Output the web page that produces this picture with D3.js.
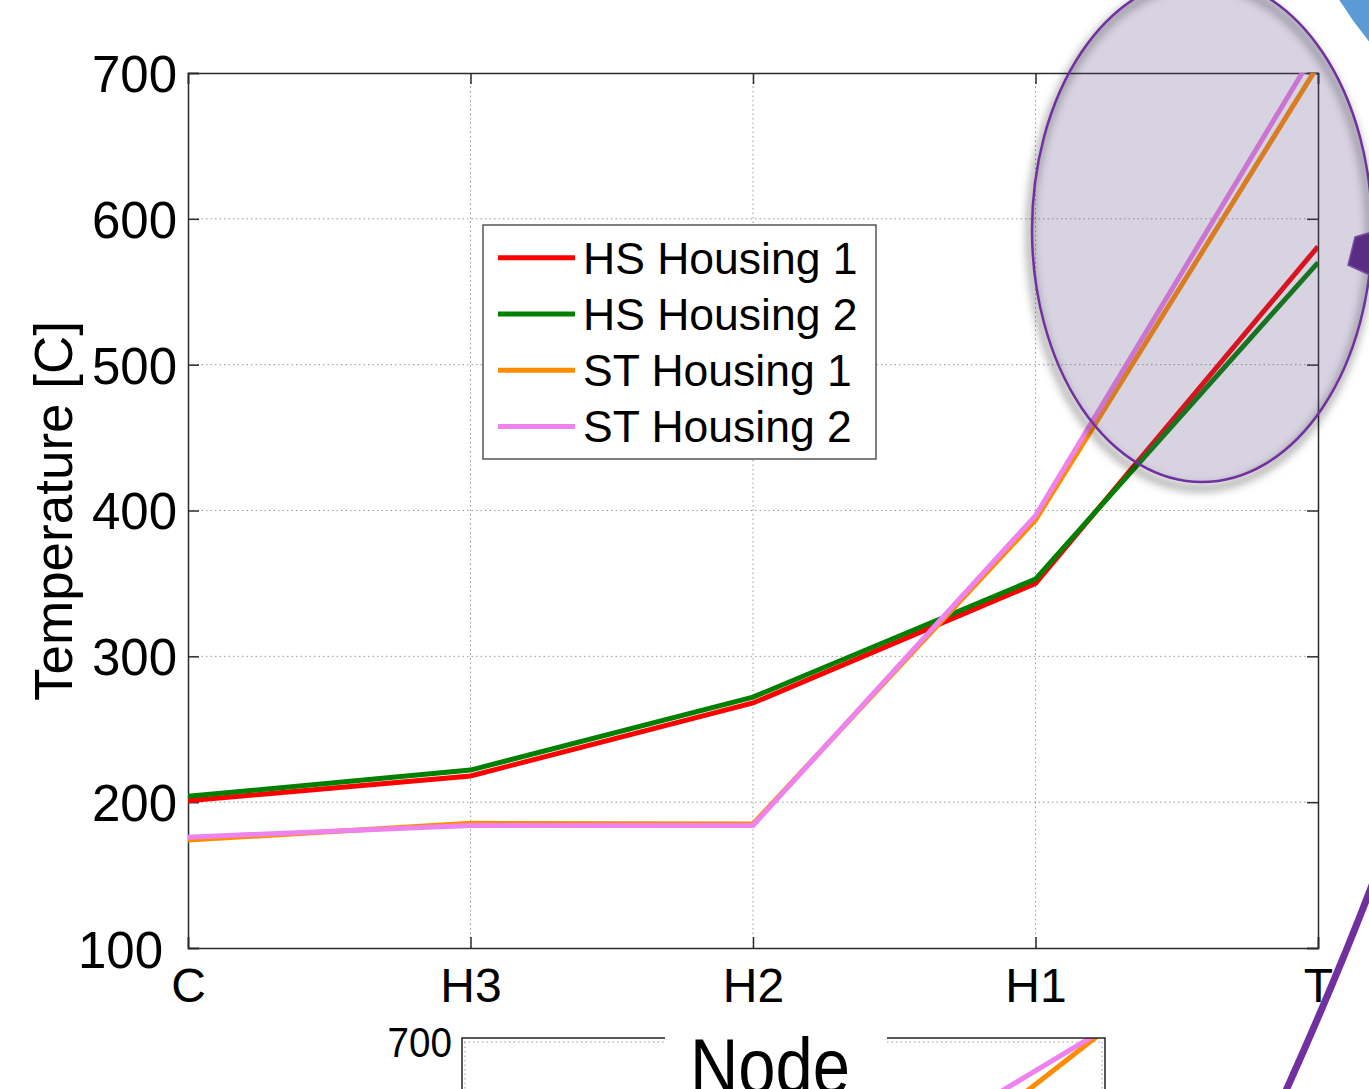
<!DOCTYPE html>
<html>
<head>
<meta charset="utf-8">
<script src="https://cdn.jsdelivr.net/npm/d3@7"></script>
<style>
  html, body { margin: 0; padding: 0; background: #fff; }
  svg { display: block; }
</style>
</head>
<body>
<svg id="chart" width="1369" height="1089"></svg>
<script>
// Node positions along the heat path
const nodes = ["C", "H3", "H2", "H1", "T"];

// Temperatures [C] at each node
const hsHousing1 = [201, 218, 268, 350, 581];
const hsHousing2 = [204, 222, 272, 353, 570];
const stHousing1 = [174, 185.5, 185, 393.5, 705];
const stHousing2 = [176, 184, 184, 396.5, 718];

// Second panel (lower), ST housings only
const panel2StHousing1 = [174, 185, 185, 308, 726];
const panel2StHousing2 = [176, 184, 184, 408, 730];

const seriesNames = ["HS Housing 1", "HS Housing 2", "ST Housing 1", "ST Housing 2"];
const seriesColors = ["#ff0000", "#008000", "#ff8c00", "#ee82ee"];

const yTicks = [100, 200, 300, 400, 500, 600, 700];

const series = [hsHousing1, hsHousing2, stHousing1, stHousing2];

const svg = d3.select("#chart");
const font = "'Liberation Sans', Arial, Helvetica, sans-serif";

const plot = { left: 188, right: 1318, top: 73, bottom: 948 };

const x = d3.scalePoint().domain(nodes).range([plot.left, plot.right]);
const y = d3.scaleLinear().domain([100, 700]).range([plot.bottom, plot.top]);

const defs = svg.append("defs");
defs.append("clipPath").attr("id", "plotClip")
  .append("rect")
  .attr("x", plot.left).attr("y", plot.top)
  .attr("width", plot.right - plot.left).attr("height", plot.bottom - plot.top);

const blur = defs.append("filter").attr("id", "softShadow")
  .attr("x", "-20%").attr("y", "-20%").attr("width", "140%").attr("height", "140%");
blur.append("feGaussianBlur").attr("stdDeviation", 4);

// ---------- grid ----------
const grid = svg.append("g");
grid.selectAll("line.hg")
  .data(yTicks.filter(t => t > 100 && t < 700))
  .join("line")
  .attr("x1", plot.left).attr("x2", plot.right)
  .attr("y1", d => y(d)).attr("y2", d => y(d))
  .attr("stroke", "#9a9a9a").attr("stroke-width", 1)
  .attr("stroke-dasharray", "1.5,3");
grid.selectAll("line.vg")
  .data(nodes.slice(1, -1))
  .join("line")
  .attr("x1", d => x(d)).attr("x2", d => x(d))
  .attr("y1", plot.top).attr("y2", plot.bottom)
  .attr("stroke", "#9a9a9a").attr("stroke-width", 1)
  .attr("stroke-dasharray", "1.5,3");

// ---------- axes ----------
const tickLen = 11;
const axisColor = "#2b2b2b";

const yAxisL = svg.append("g").attr("transform", `translate(${plot.left},0)`)
  .call(d3.axisLeft(y).tickValues(yTicks).tickSize(-tickLen).tickPadding(10).tickFormat(d3.format("d")));
const yAxisR = svg.append("g").attr("transform", `translate(${plot.right},0)`)
  .call(d3.axisRight(y).tickValues(yTicks).tickSize(-tickLen).tickFormat(""));
const xAxisB = svg.append("g").attr("transform", `translate(0,${plot.bottom})`)
  .call(d3.axisBottom(x).tickSize(-tickLen).tickPadding(8));
const xAxisT = svg.append("g").attr("transform", `translate(0,${plot.top})`)
  .call(d3.axisTop(x).tickSize(-tickLen).tickFormat(""));

[yAxisL, yAxisR, xAxisB, xAxisT].forEach(g => {
  g.select(".domain").attr("stroke", axisColor).attr("stroke-width", 1.5);
  g.selectAll(".tick line").attr("stroke", axisColor).attr("stroke-width", 1.5);
});

yAxisL.selectAll(".tick text")
  .attr("font-family", font).attr("font-size", 51).attr("fill", "#000")
  .attr("x", d => d === 100 ? -25 : -11)
  .attr("dy", d => d === 100 ? "0.38em" : "0.36em");

xAxisB.selectAll(".tick text")
  .attr("font-family", font).attr("font-size", 48).attr("fill", "#000")
  .attr("y", 54).attr("dy", 0);

// ---------- series lines ----------
const line = d3.line()
  .x((d, i) => x(nodes[i]))
  .y(d => y(d));

svg.append("g").attr("clip-path", "url(#plotClip)")
  .selectAll("path.series")
  .data(series)
  .join("path")
  .attr("class", "series")
  .attr("d", d => line(d))
  .attr("fill", "none")
  .attr("stroke", (d, i) => seriesColors[i])
  .attr("stroke-width", 5)
  .attr("stroke-linejoin", "miter");

// ---------- axis title ----------
svg.append("text")
  .attr("transform", "translate(72,511) rotate(-90)")
  .attr("text-anchor", "middle")
  .attr("font-family", font).attr("font-size", 53)
  .text("Temperature [C]");

// ---------- legend ----------
const legend = svg.append("g");
legend.append("rect")
  .attr("x", 483).attr("y", 225).attr("width", 393).attr("height", 234)
  .attr("fill", "#fff").attr("stroke", "#555").attr("stroke-width", 1.5);

const rows = legend.selectAll("g.row")
  .data(seriesNames)
  .join("g")
  .attr("class", "row")
  .attr("transform", (d, i) => `translate(0,${257.7 + i * 56.3})`);
rows.append("line")
  .attr("x1", 498).attr("x2", 575).attr("y1", 0).attr("y2", 0)
  .attr("stroke", (d, i) => seriesColors[i]).attr("stroke-width", 5);
rows.append("text")
  .attr("x", 583).attr("dy", "0.355em")
  .attr("font-family", font).attr("font-size", 44.5)
  .text(d => d);

// ---------- second panel below (only its top edge is in view) ----------
const inset = { left: 462, right: 1105, top: 1038 };
const xi = d3.scalePoint().domain(nodes).range([inset.left, inset.right]);
const yi = d3.scaleLinear().domain([100, 700]).range([inset.top + 180, inset.top]);

defs.append("clipPath").attr("id", "insetClip")
  .append("rect")
  .attr("x", inset.left).attr("y", inset.top)
  .attr("width", inset.right - inset.left).attr("height", 200);

const insetG = svg.append("g");
insetG.append("line")
  .attr("x1", inset.left + 2).attr("x2", inset.right - 2)
  .attr("y1", inset.top + 4).attr("y2", inset.top + 4)
  .attr("stroke", "#9a9a9a").attr("stroke-dasharray", "1.5,3");
insetG.append("line")
  .attr("x1", inset.left + 3).attr("x2", inset.left + 3)
  .attr("y1", inset.top + 4).attr("y2", 1089)
  .attr("stroke", "#9a9a9a").attr("stroke-dasharray", "1.5,3");
insetG.append("line")
  .attr("x1", inset.right - 3).attr("x2", inset.right - 3)
  .attr("y1", inset.top + 4).attr("y2", 1089)
  .attr("stroke", "#9a9a9a").attr("stroke-dasharray", "1.5,3");

const lineI = d3.line().x((d, i) => xi(nodes[i])).y(d => yi(d));
insetG.append("g").attr("clip-path", "url(#insetClip)")
  .selectAll("path")
  .data([panel2StHousing1, panel2StHousing2])
  .join("path")
  .attr("d", d => lineI(d))
  .attr("fill", "none")
  .attr("stroke", (d, i) => seriesColors[i + 2])
  .attr("stroke-width", 5);

insetG.append("path")
  .attr("d", `M${inset.left},1089V${inset.top}H${inset.right}V1089`)
  .attr("fill", "none").attr("stroke", "#222").attr("stroke-width", 1.5);

insetG.append("text")
  .attr("x", 452).attr("y", 1057)
  .attr("text-anchor", "end")
  .attr("font-family", font).attr("font-size", 42)
  .attr("transform", "translate(452,0) scale(0.92,1) translate(-452,0)")
  .text("700");

// x-axis title sits on a white box over the lower panel
svg.append("rect")
  .attr("x", 665).attr("y", 1030).attr("width", 222).attr("height", 70)
  .attr("fill", "#fff");
svg.append("text")
  .attr("x", 770).attr("y", 1093)
  .attr("text-anchor", "middle")
  .attr("font-family", font).attr("font-size", 77)
  .attr("transform", "translate(770,0) scale(0.87,1) translate(-770,0)")
  .text("Node");

// ---------- highlight ellipse ----------
const ell = { cx: 1202, cy: 230, rx: 170, ry: 252 };
svg.append("ellipse")
  .attr("cx", ell.cx - 2).attr("cy", ell.cy + 6)
  .attr("rx", ell.rx).attr("ry", ell.ry)
  .attr("fill", "none").attr("stroke", "#000").attr("stroke-opacity", 0.35)
  .attr("stroke-width", 7)
  .attr("filter", "url(#softShadow)");
svg.append("ellipse")
  .attr("cx", ell.cx).attr("cy", ell.cy)
  .attr("rx", ell.rx).attr("ry", ell.ry)
  .attr("fill", "rgb(100,80,132)").attr("fill-opacity", 0.25)
  .attr("stroke", "#7030a0").attr("stroke-width", 2.5);

// arrow stub at the right edge
svg.append("path")
  .attr("d", "M1355,237L1372,232L1372,276L1348,265Z")
  .attr("fill", "#5b2c83").attr("stroke", "#7b4fa8").attr("stroke-width", 1.5);

// blue shape in the top-right corner
svg.append("path")
  .attr("d", "M1338,-2Q1353,22 1371,44L1371,-2Z")
  .attr("fill", "#5b9bd5");

// purple arc at the lower right
svg.append("path")
  .attr("d", "M1374,880Q1338,975 1284,1095")
  .attr("fill", "none").attr("stroke", "#7030a0").attr("stroke-width", 7);
</script>
</body>
</html>
